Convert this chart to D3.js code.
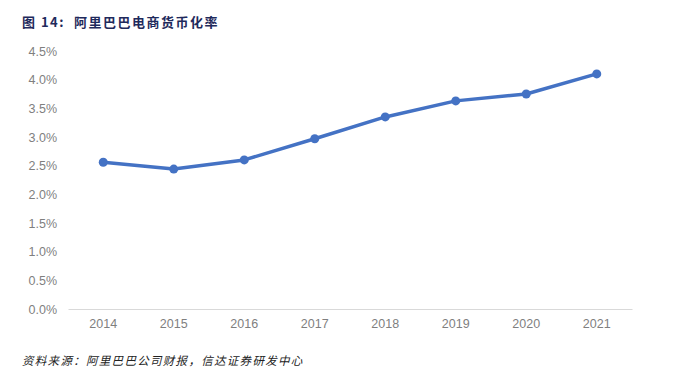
<!DOCTYPE html>
<html lang="zh">
<head>
  <meta charset="UTF-8">
  <title>阿里巴巴电商货币化率</title>
  <style>
    body { margin: 0; background: #fff; }
  </style>
</head>
<body>
  <svg id="svg" width="679" height="378"></svg>

  <script src="https://d3js.org/d3.v7.min.js"></script>
  <script>
    // data
    const years = ['2014', '2015', '2016', '2017', '2018', '2019', '2020', '2021']
    const rates = [2.56, 2.44, 2.60, 2.97, 3.35, 3.63, 3.75, 4.10]
    const yTicks = [0, 0.5, 1, 1.5, 2, 2.5, 3, 3.5, 4, 4.5]

    const title = '图 14:  阿里巴巴电商货币化率'
    const source = '资料来源：阿里巴巴公司财报，信达证券研发中心'

    const margin = { top: 51, right: 47, bottom: 69, left: 68 }
    const width = 679 - margin.left - margin.right
    const height = 378 - margin.top - margin.bottom

    const svg = d3.select('#svg')

    // scales
    const xscale = d3.scaleBand()
      .domain(years)
      .range([margin.left, margin.left + width])

    const yscale = d3.scaleLinear()
      .domain([0, 4.5])
      .range([margin.top + height, margin.top])

    // y axis (labels only, no gridlines)
    const leftAxis = d3.axisLeft(yscale)
      .tickValues(yTicks)
      .tickSize(0)
      .tickPadding(11)
      .tickFormat(d => d.toFixed(1) + '%')

    const gy = svg.append('g')
      .attr('transform', `translate(${margin.left}, 0)`)
      .call(leftAxis)
    gy.select('.domain').remove()
    gy.selectAll('text')
      .attr('fill', '#7f7f7f')
      .style('font-family', 'Liberation Sans, Arial, sans-serif')
      .style('font-size', '12.5px')

    // x axis
    const bottomAxis = d3.axisBottom(xscale)
      .tickSize(0)
      .tickPadding(10)

    const gx = svg.append('g')
      .attr('transform', `translate(0, ${margin.top + height})`)
      .call(bottomAxis)
    gx.select('.domain')
      .attr('stroke', '#d9d9d9')
      .attr('stroke-width', 1)
    gx.selectAll('text')
      .attr('fill', '#7f7f7f')
      .style('font-family', 'Liberation Sans, Arial, sans-serif')
      .style('font-size', '12.5px')

    // line
    const points = years.map((y, i) => ({ year: y, value: rates[i] }))
    const cx = d => xscale(d.year) + xscale.bandwidth() / 2

    const line = d3.line()
      .x(cx)
      .y(d => yscale(d.value))

    svg.append('path')
      .datum(points)
      .attr('d', line)
      .attr('fill', 'none')
      .attr('stroke', '#4472c4')
      .attr('stroke-width', 3.5)
      .attr('stroke-linejoin', 'round')

    svg.selectAll('circle')
      .data(points)
      .enter()
      .append('circle')
      .attr('cx', cx)
      .attr('cy', d => yscale(d.value))
      .attr('r', 4.5)
      .attr('fill', '#4472c4')

    // title
    svg.append('text')
      .attr('x', 22)
      .attr('y', 27)
      .attr('fill', '#1f2a5c')
      .attr('xml:space', 'preserve')
      .style('white-space', 'pre')
      .style('font-family', '"Noto Sans CJK SC", sans-serif')
      .style('font-weight', 'bold')
      .style('font-size', '13px')
      .style('letter-spacing', '1.5px')
      .text(title)

    // source note
    svg.append('text')
      .attr('x', 22)
      .attr('y', 365)
      .attr('fill', '#222')
      .style('font-family', '"Noto Sans CJK SC", sans-serif')
      .style('font-style', 'italic')
      .style('font-size', '11.5px')
      .style('letter-spacing', '1.3px')
      .text(source)
  </script>
</body>
</html>
